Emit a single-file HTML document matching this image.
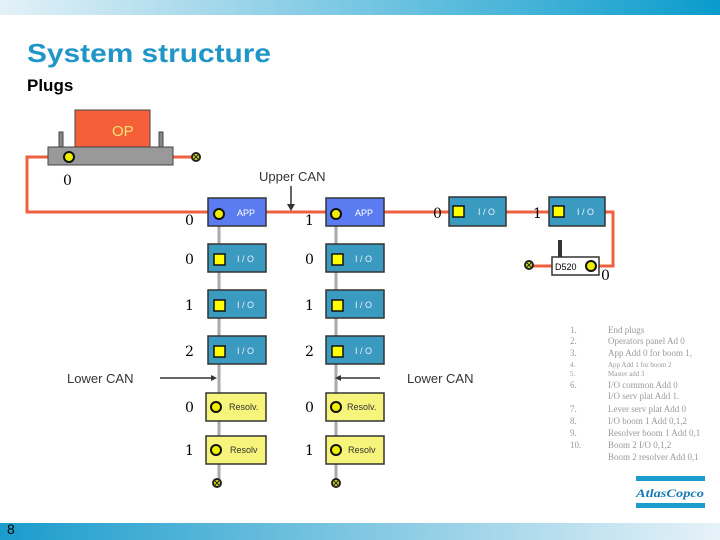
<!DOCTYPE html>
<html><head><meta charset="utf-8"><style>
html,body{margin:0;padding:0;background:#fff;}
svg{display:block;}
</style></head><body>
<svg width="720" height="540" viewBox="0 0 720 540" xmlns="http://www.w3.org/2000/svg" font-family="Liberation Sans, sans-serif">
<defs>
<linearGradient id="tg" x1="0" x2="1" y1="0" y2="0"><stop offset="0" stop-color="#e4f1f8"/><stop offset="1" stop-color="#0a9ccc"/></linearGradient>
<linearGradient id="bg" x1="0" x2="1" y1="0" y2="0"><stop offset="0" stop-color="#1a9ccc"/><stop offset="1" stop-color="#e6f2f8"/></linearGradient>
<g id="ep"><circle r="5" fill="#222"/><circle r="3" fill="#dd2"/><path d="M-2,-2 L2,2 M2,-2 L-2,2" stroke="#222" stroke-width="1"/></g>
</defs>
<rect x="0" y="0" width="720" height="15" fill="url(#tg)"/>
<rect x="0" y="523" width="720" height="17" fill="url(#bg)"/>
<text x="27" y="62" font-size="26" font-weight="bold" fill="#1f95c8" textLength="244" lengthAdjust="spacingAndGlyphs">System structure</text>
<text x="27" y="91" font-size="17" font-weight="bold" fill="#000">Plugs</text>
<text x="7" y="534" font-size="14" fill="#000">8</text>

<!-- red cable -->
<path d="M48,157 H27 V212 H208 M266,212 H326 M384,212 H452 M506,212 H549 M605,212 H613 V266 H599 M552,266 H530 M173,157 H196" fill="none" stroke="#ee6040" stroke-width="3"/>
<!-- gray vertical -->
<path d="M219,226 V480 M336,226 V480" stroke="#aaa" stroke-width="3"/>

<!-- OP -->
<rect x="59" y="132" width="4" height="16" fill="#888" stroke="#444"/>
<rect x="159" y="132" width="4" height="16" fill="#888" stroke="#444"/>
<rect x="75" y="110" width="75" height="38" fill="#f5603a" stroke="#444" stroke-width="1"/>
<text x="112" y="136" font-size="15" fill="#f5e070">OP</text>
<rect x="48" y="147" width="125" height="18" fill="#999" stroke="#444"/>
<circle cx="69" cy="157" r="5" fill="#ee0" stroke="#111" stroke-width="2"/>
<use href="#ep" x="196" y="157"/>
<text x="63" y="185" font-size="14" font-family="DejaVu Serif, serif">0</text>

<text x="259" y="181" font-size="13" fill="#333">Upper CAN</text>
<path d="M291,186 V208" stroke="#333" stroke-width="1.5"/><path d="M287,204 L291,211 L295,204Z" fill="#333"/>

<!-- APP boxes -->
<g>
<rect x="208" y="198" width="58" height="28" fill="#5a7cf0" stroke="#333" stroke-width="1.5"/>
<circle cx="219" cy="214" r="5" fill="#ee0" stroke="#111" stroke-width="2"/>
<text x="237" y="216" font-size="9" fill="#fff">APP</text>
<rect x="326" y="198" width="58" height="28" fill="#5a7cf0" stroke="#333" stroke-width="1.5"/>
<circle cx="336" cy="214" r="5" fill="#ee0" stroke="#111" stroke-width="2"/>
<text x="355" y="216" font-size="9" fill="#fff">APP</text>
</g>
<g font-family="DejaVu Serif, serif" font-size="14">
<text x="185" y="225">0</text><text x="305" y="225">1</text>
<text x="185" y="264">0</text><text x="305" y="264">0</text>
<text x="185" y="310">1</text><text x="305" y="310">1</text>
<text x="185" y="356">2</text><text x="305" y="356">2</text>
<text x="185" y="412">0</text><text x="305" y="412">0</text>
<text x="185" y="455">1</text><text x="305" y="455">1</text>
<text x="433" y="218">0</text><text x="533" y="218">1</text>
<text x="601" y="280">0</text>
</g>
<!-- IO boxes -->
<g fill="#3a9abf" stroke="#333" stroke-width="1.5">
<rect x="208" y="244" width="58" height="28"/><rect x="326" y="244" width="58" height="28"/>
<rect x="208" y="290" width="58" height="28"/><rect x="326" y="290" width="58" height="28"/>
<rect x="208" y="336" width="58" height="28"/><rect x="326" y="336" width="58" height="28"/>
<rect x="449" y="197" width="57" height="29"/><rect x="549" y="197" width="56" height="29"/>
</g>
<g fill="#ff0" stroke="#111" stroke-width="1.5">
<rect x="214" y="254" width="11" height="11"/><rect x="332" y="254" width="11" height="11"/>
<rect x="214" y="300" width="11" height="11"/><rect x="332" y="300" width="11" height="11"/>
<rect x="214" y="346" width="11" height="11"/><rect x="332" y="346" width="11" height="11"/>
<rect x="453" y="206" width="11" height="11"/><rect x="553" y="206" width="11" height="11"/>
</g>
<g font-size="9" fill="#eef">
<text x="237" y="262">I / O</text><text x="355" y="262">I / O</text>
<text x="237" y="308">I / O</text><text x="355" y="308">I / O</text>
<text x="237" y="354">I / O</text><text x="355" y="354">I / O</text>
<text x="478" y="215">I / O</text><text x="577" y="215">I / O</text>
</g>
<!-- D520 -->
<rect x="558" y="240" width="4" height="17" fill="#333"/>
<rect x="552" y="257" width="47" height="18" fill="#fff" stroke="#333" stroke-width="1.5"/>
<text x="555" y="270" font-size="9">D520</text>
<circle cx="591" cy="266" r="5" fill="#ee0" stroke="#111" stroke-width="2"/>
<use href="#ep" x="529" y="265"/>

<!-- Lower CAN -->
<text x="67" y="383" font-size="13" fill="#333">Lower CAN</text>
<path d="M160,378 H214" stroke="#333" stroke-width="1.5"/><path d="M211,375 L217,378 L211,381Z" fill="#333"/>
<text x="407" y="383" font-size="13" fill="#333">Lower CAN</text>
<path d="M380,378 H338" stroke="#333" stroke-width="1.5"/><path d="M341,375 L335,378 L341,381Z" fill="#333"/>

<!-- Resolvers -->
<g fill="#f6f47a" stroke="#333" stroke-width="1.5">
<rect x="206" y="393" width="60" height="28"/><rect x="326" y="393" width="58" height="28"/>
<rect x="206" y="436" width="60" height="28"/><rect x="326" y="436" width="58" height="28"/>
</g>
<g fill="#ee0" stroke="#111" stroke-width="2">
<circle cx="216" cy="407" r="5"/><circle cx="336" cy="407" r="5"/>
<circle cx="216" cy="450" r="5"/><circle cx="336" cy="450" r="5"/>
</g>
<g font-size="9" fill="#333">
<text x="229" y="410">Resolv.</text><text x="347" y="410">Resolv.</text>
<text x="230" y="453">Resolv</text><text x="348" y="453">Resolv</text>
</g>
<use href="#ep" x="217" y="483"/><use href="#ep" x="336" y="483"/>

<!-- list -->
<g font-family="Liberation Serif, serif" fill="#999" font-size="9">
<text x="570" y="333">1.</text><text x="608" y="333">End plugs</text>
<text x="570" y="344">2.</text><text x="608" y="344">Operators panel Ad 0</text>
<text x="570" y="356">3.</text><text x="608" y="356">App Add 0 for boom 1,</text>
<text x="570" y="367" font-size="7">4.</text><text x="608" y="367" font-size="7">App Add 1 for boom 2</text>
<text x="570" y="376" font-size="7">5.</text><text x="608" y="376" font-size="7">Master add 3</text>
<text x="570" y="388">6.</text><text x="608" y="388">I/O common Add 0</text>
<text x="608" y="399">I/O serv plat Add 1.</text>
<text x="570" y="412">7.</text><text x="608" y="412">Lever serv plat Add 0</text>
<text x="570" y="424">8.</text><text x="608" y="424">I/O boom 1 Add 0,1,2</text>
<text x="570" y="436">9.</text><text x="608" y="436">Resolver boom 1 Add 0,1</text>
<text x="570" y="448">10.</text><text x="608" y="448">Boom 2 I/O 0,1,2</text>
<text x="608" y="460">Boom 2 resolver Add  0,1</text>
</g>
<!-- logo -->
<rect x="636" y="476" width="69" height="5" fill="#1a9ccc"/>
<rect x="636" y="503" width="69" height="5" fill="#1a9ccc"/>
<text x="670" y="497" font-family="Liberation Serif, serif" font-style="italic" font-weight="bold" font-size="12" fill="#1a7ab0" text-anchor="middle" textLength="68" lengthAdjust="spacingAndGlyphs">AtlasCopco</text>
</svg>
</body></html>
